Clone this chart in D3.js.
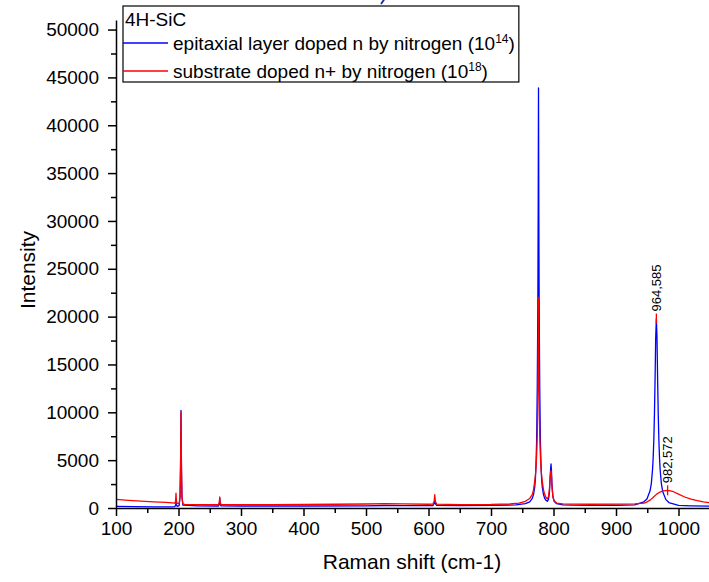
<!DOCTYPE html>
<html>
<head>
<meta charset="utf-8">
<script src="https://cdn.jsdelivr.net/npm/d3@7"></script>
<style>
  html, body { margin: 0; padding: 0; background: #fff; }
  svg { display: block; font-family: "Liberation Sans", Arial, sans-serif; }
</style>
</head>
<body>
<svg id="chart" width="709" height="582"></svg>
<script>
// ---- Data ----
const xTicks = [100, 200, 300, 400, 500, 600, 700, 800, 900, 1000];
const yTicks = [0, 5000, 10000, 15000, 20000, 25000, 30000, 35000, 40000, 45000, 50000];

// Epitaxial layer doped n by nitrogen (1e14) – blue
const epiX = [100,130,160,190,194,195.5,196,196.5,198,201,202.5,203.3,204,204.7,205.5,207,230,264,265.3,266,266.7,268,300,400,500,530,560,600,607,609,610,611,613,650,700,740,755,762,766,768,770,771,772,773,774,774.5,775,775.5,776,776.5,777,777.5,778,779,780,781,782,784,786,788,790,792,793.5,794.5,795.3,796,796.7,797.5,799,801,805,815,830,860,900,930,944.5,949.5,954.5,956.5,958.5,959.5,960.5,961.5,962.5,963.5,964.6,965.6,966.6,967.6,968.6,969.6,970.6,972.6,974.6,979.6,984.6,1000,1020,1050];
const epiY = [160,140,125,125,150,300,700,300,180,250,1200,4500,10200,4500,1200,300,220,210,400,1000,400,220,210,210,230,260,240,250,260,450,750,450,270,260,270,330,450,650,1000,1400,2200,3000,4500,7000,12500,17000,22000,31000,43900,31000,22000,17000,12500,7000,4500,3000,2200,1400,1000,800,700,900,1600,3000,4000,4600,4000,2500,1200,700,450,330,290,270,290,330,650,950,1800,2550,4050,5280,7100,9750,13400,17800,19800,17800,13400,9750,7080,5260,4020,2540,1760,900,570,270,230,200];

// Substrate doped n+ by nitrogen (1e18) – red
const subX = [100,120,140,160,180,190,194,195.3,196,196.7,198,201,202.5,203.3,204,204.7,205.5,207,210,230,264,265.3,266,266.7,268,300,350,400,450,500,530,560,600,607,609,610,611,613,650,700,730,745,755,762,766,768,770,771,772,773,774,774.5,775,775.5,776,776.5,777,777.5,778,779,780,781,782,784,786,788,790,792,793.5,794.5,795.3,796,796.7,797.5,799,801,805,815,830,860,900,930,945,950,955,960,965,970,976,982,987,992,1000,1010,1020,1030,1040,1050];
const subY = [900,800,720,640,580,540,520,700,1550,700,480,450,1200,4300,10000,4300,1200,420,370,350,350,600,1150,600,350,350,360,370,390,420,460,430,390,400,700,1400,700,400,360,370,420,500,700,1000,1400,1900,2800,3400,4200,5500,7500,9500,12500,17000,22000,17000,12500,9500,7500,5500,4200,3400,2800,1900,1400,1100,950,1200,2000,3100,3700,3900,3500,2300,1200,750,520,430,400,390,400,440,520,650,850,1150,1450,1650,1780,1850,1800,1700,1450,1150,920,760,640,560];

const legendTitle = "4H-SiC";
const seriesNames = ["epitaxial layer doped n by nitrogen (10", "substrate doped n+ by nitrogen (10"];
const seriesExp = ["14", "18"];
const seriesColors = ["#0000ff", "#ff0000"];
const peakLabels = [{x: 964.585, y: 19800, text: "964,585"}, {x: 982.572, y: 1850, text: "982,572"}];

// ---- Drawing ----
const svg = d3.select("#chart");
const x = d3.scaleLinear().domain([100, 1050]).range([116, 709.75]);
const y = d3.scaleLinear().domain([0, 51000]).range([508, 20]);

const minorX = d3.range(150, 1050, 100);
const minorY = d3.range(2500, 50001, 5000);

// data lines
const line = d3.line().x(d => x(d[0])).y(d => y(d[1]));
const epi = epiX.map((v, i) => [v, epiY[i]]);
const sub = subX.map((v, i) => [v, subY[i]]);
[epi, sub].forEach((s, i) => {
  svg.append("path").datum(s).attr("d", line)
    .attr("fill", "none").attr("stroke", seriesColors[i]).attr("stroke-width", 1.3)
    .attr("stroke-linejoin", "round");
});

// axes
const fontSize = 19;
const fmt = d3.format("d");
const gx = svg.append("g").attr("transform", `translate(0,${y(0)})`)
  .call(d3.axisBottom(x).tickValues(xTicks).tickFormat(fmt).tickSize(8).tickSizeOuter(0).tickPadding(5));
const gxm = svg.append("g").attr("transform", `translate(0,${y(0)})`)
  .call(d3.axisBottom(x).tickValues(minorX).tickSize(5).tickFormat(""));
const gy = svg.append("g").attr("transform", `translate(${x(100)},0)`)
  .call(d3.axisLeft(y).tickValues(yTicks).tickFormat(fmt).tickSize(8).tickSizeOuter(0).tickPadding(9));
const gym = svg.append("g").attr("transform", `translate(${x(100)},0)`)
  .call(d3.axisLeft(y).tickValues(minorY).tickSize(5).tickFormat(""));
gxm.select(".domain").remove();
gym.select(".domain").remove();
[gx, gy].forEach(g => {
  g.selectAll("text").attr("font-size", fontSize).attr("fill", "#000")
    .attr("font-family", "Liberation Sans, Arial, sans-serif");
  g.select(".domain").attr("stroke-width", 1.5);
});
[gx, gxm, gy, gym].forEach(g => g.selectAll(".tick line").attr("stroke-width", 1.5));
gx.selectAll("text").attr("dy", "0.75em");

// axis titles
svg.append("text").attr("x", 412).attr("y", 569).attr("text-anchor", "middle")
  .attr("font-size", 21).text("Raman shift (cm-1)");
svg.append("text").attr("transform", "translate(35,270) rotate(-90)").attr("text-anchor", "middle")
  .attr("font-size", 21).text("Intensity");

// peak labels
peakLabels.forEach(p => {
  const px = x(p.x), py = y(p.y);
  svg.append("line").attr("x1", px).attr("x2", px).attr("y1", py - 5).attr("y2", py + 5)
    .attr("stroke", "#ff0000").attr("stroke-width", 1.3);
  svg.append("text").attr("transform", `translate(${px + 4.5},${py - 7}) rotate(-90)`)
    .attr("font-size", 13).attr("fill", "#000").text(p.text);
});

// cut-off fragment of a blue title glyph at the very top edge
svg.append("path").attr("d", "M381,4 L384.5,-1").attr("stroke", "#1a2a9a")
  .attr("stroke-width", 1.8).attr("fill", "none");

// legend
const lg = svg.append("g");
const lx = 123, ly = 6;
lg.append("text").attr("x", lx + 2).attr("y", 26).attr("font-size", fontSize).text(legendTitle);
const rowsY = [43, 71];
let maxRight = 0;
seriesNames.forEach((name, i) => {
  lg.append("line").attr("x1", lx).attr("x2", 168).attr("y1", rowsY[i]).attr("y2", rowsY[i])
    .attr("stroke", seriesColors[i]).attr("stroke-width", 1.3);
  const t = lg.append("text").attr("x", 173).attr("y", rowsY[i] + 7).attr("font-size", fontSize);
  t.append("tspan").text(name);
  t.append("tspan").attr("font-size", 12).attr("dy", -7).text(seriesExp[i]);
  t.append("tspan").attr("dy", 7).text(")");
  const bb = t.node().getBBox();
  maxRight = Math.max(maxRight, bb.x + bb.width);
});
lg.insert("rect", ":first-child").attr("x", lx).attr("y", ly).attr("width", maxRight + 4 - lx).attr("height", 76)
  .attr("fill", "#fff").attr("stroke", "#000").attr("stroke-width", 1.2);
</script>
</body>
</html>
